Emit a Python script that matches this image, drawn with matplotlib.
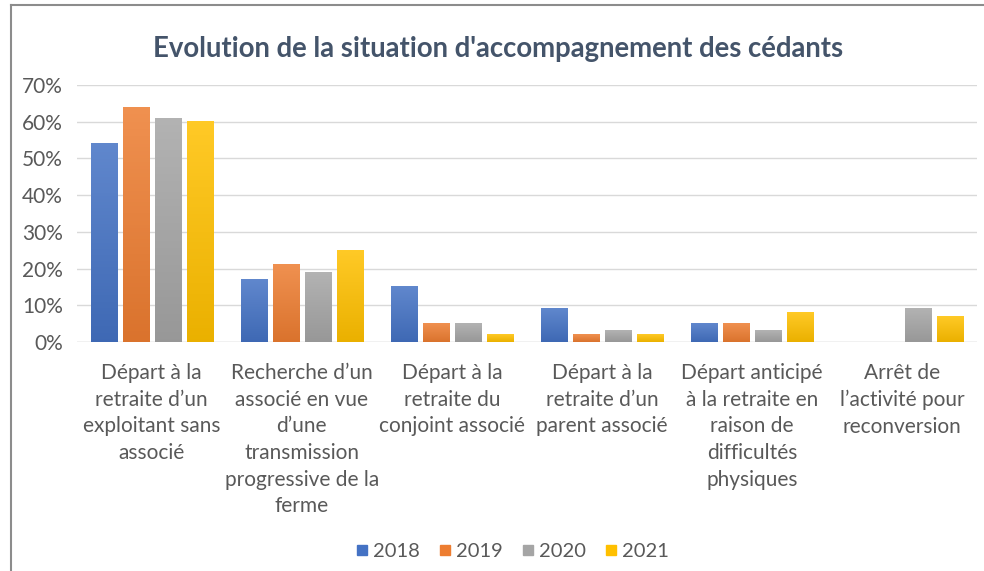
import matplotlib
matplotlib.use("Agg")
import matplotlib.pyplot as plt
import numpy as np
from matplotlib.colors import LinearSegmentedColormap, to_rgb
from matplotlib.lines import Line2D


TITLE = "Evolution de la situation d'accompagnement des cédants"
CATEGORIES = [
    "Départ à la\nretraite d’un\nexploitant sans\nassocié",
    "Recherche d’un\nassocié en vue\nd’une\ntransmission\nprogressive de la\nferme",
    "Départ à la\nretraite du\nconjoint associé",
    "Départ à la\nretraite d’un\nparent associé",
    "Départ anticipé\nà la retraite en\nraison de\ndifficultés\nphysiques",
    "Arrêt de\nl’activité pour\nreconversion",
]
YEARS = ["2018", "2019", "2020", "2021"]
V2018 = [54, 17, 15, 9, 5, 0]
V2019 = [64, 21, 5, 2, 5, 0]
V2020 = [61, 19, 5, 3, 3, 9]
V2021 = [60, 25, 2, 2, 8, 7]
SERIES = [V2018, V2019, V2020, V2021]
COLORS = ["#4472C4", "#ED7D31", "#A5A5A5", "#FFC000"]
TEXT = "#595959"


def shade(color, f):
    r, g, b = to_rgb(color)
    if f > 0:
        return (r + (1 - r) * f, g + (1 - g) * f, b + (1 - b) * f)
    return (r * (1 + f), g * (1 + f), b * (1 + f))


def main():
    plt.rcParams["font.family"] = ["Lato", "DejaVu Sans"]
    fig = plt.figure(figsize=(9.84, 5.71), dpi=100)
    ax = fig.add_axes([0.078, 0.401, 0.915, 0.45])

    x = np.arange(len(CATEGORIES))
    width = 0.175
    pitch = 0.213
    for i, (vals, col) in enumerate(zip(SERIES, COLORS)):
        bars = ax.bar(x + (i - 1.5) * pitch, [v / 100 for v in vals], width,
                      color=col, edgecolor=shade(col, 0.35), linewidth=0.6, zorder=2)
        cmap = LinearSegmentedColormap.from_list("g", [shade(col, -0.08), shade(col, 0.15)])
        grad = np.linspace(0, 1, 64).reshape(-1, 1)
        for b in bars:
            if b.get_height() <= 0:
                continue
            bx, by = b.get_x(), b.get_y()
            ax.imshow(grad, cmap=cmap, origin="lower", aspect="auto", zorder=2.5,
                      extent=(bx, bx + b.get_width(), by, by + b.get_height()),
                      clip_path=b, clip_on=True)

    ax.set_xlim(-0.5, len(CATEGORIES) - 0.5)
    ax.set_ylim(0, 0.70)
    ax.set_yticks(np.arange(0, 0.71, 0.1))
    ax.set_yticklabels([f"{int(round(t * 100))}%" for t in np.arange(0, 0.71, 0.1)])
    ax.set_xticks(x)
    ax.set_xticklabels(CATEGORIES, linespacing=1.42, va="top")
    ax.tick_params(length=0, labelsize=15, colors=TEXT, pad=15)
    ax.tick_params(axis="y", pad=10)
    ax.yaxis.grid(True, color="#D9D9D9", linewidth=1.0, zorder=0)
    ax.set_axisbelow(True)
    for s in ax.spines.values():
        s.set_visible(False)
    ax.axhline(0, color="#D9D9D9", linewidth=1.0, zorder=1)

    fig.text(0.506, 0.915, TITLE, ha="center", va="center", fontsize=19.8,
             fontweight="bold", color="#44546A")

    handles = [Line2D([], [], marker="s", linestyle="", markersize=7,
                      markerfacecolor=c, markeredgecolor=c) for c in COLORS]
    fig.legend(handles, YEARS, loc="center", bbox_to_anchor=(0.518, 0.034), ncol=4,
               frameon=False, fontsize=14.5, labelcolor=TEXT, handletextpad=0.0,
               columnspacing=0.7, handlelength=1.1)

    fig.add_artist(Line2D([0.011, 0.011], [0, 0.991], color="#8C8C8C", linewidth=1.5))
    fig.add_artist(Line2D([0.011, 1.0], [0.991, 0.991], color="#8C8C8C", linewidth=1.5))

    fig.savefig("out.png", dpi=100)
    plt.close(fig)


if __name__ == "__main__":
    main()
